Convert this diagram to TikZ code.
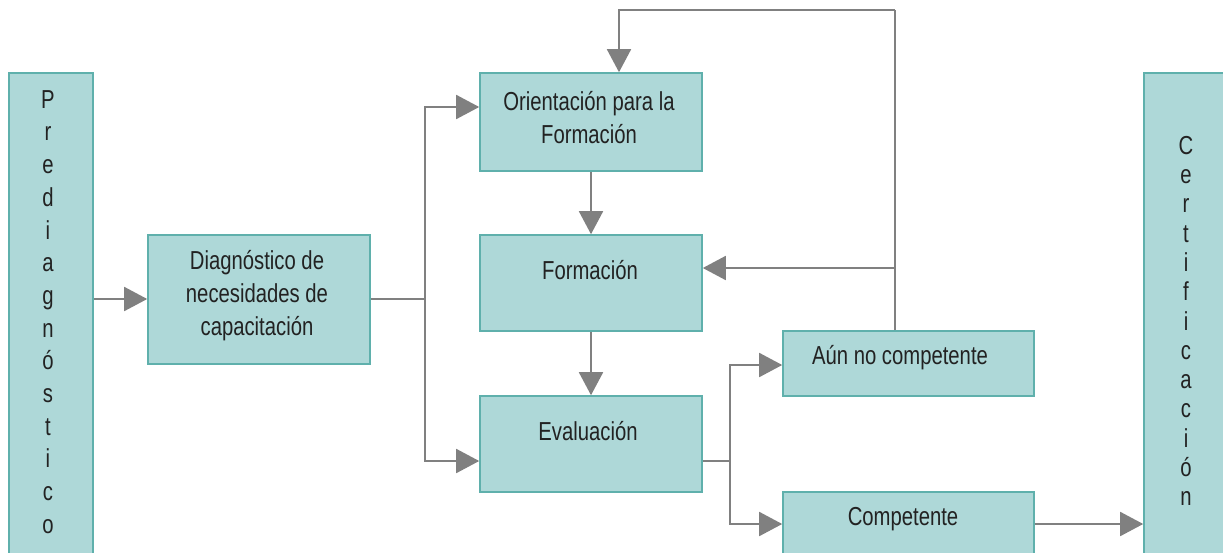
\documentclass[tikz,border=0pt]{standalone}
\usepackage{fontspec}
\setmainfont[FakeStretch=0.78]{Liberation Sans}
\usetikzlibrary{arrows.meta}
\definecolor{boxfill}{HTML}{AED8D8}
\definecolor{boxline}{HTML}{5FB0AC}
\definecolor{conn}{HTML}{808080}
\definecolor{txt}{HTML}{222222}
\tikzset{
  box/.style={draw=boxline, fill=boxfill, line width=1.6pt, inner sep=0pt},
  lbl/.style={text=txt, align=center, inner sep=0pt, font=\fontsize{26}{33}\selectfont},
  vert/.style={text=txt, align=center, inner sep=0pt},
  link/.style={draw=conn, line width=1.8pt, -{Triangle[length=23pt,width=24pt]}},
  plain/.style={draw=conn, line width=1.8pt},
}
\begin{document}
\begin{tikzpicture}[x=1pt,y=-1pt]
\clip (0,0) rectangle (1223,552);
\fill[white] (0,0) rectangle (1223,552);
% side bars
\node[box, minimum width=84pt, minimum height=520pt] (pre) at (51,333) {};
\node[vert, font=\fontsize{26}{32.7}\selectfont] (preT) at (48,312)
  {P\\r\\e\\d\\i\\a\\g\\n\\ó\\s\\t\\i\\c\\o};
\node[box, minimum width=84pt, minimum height=520pt] (cert) at (1186,333) {};
\node[vert, font=\fontsize{26}{29.3}\selectfont] (certT) at (1186,321)
  {C\\e\\r\\t\\i\\f\\i\\c\\a\\c\\i\\ó\\n};
% boxes
\node[box, minimum width=222pt, minimum height=129pt] (diag) at (259,299.5) {};
\node[lbl] (diagT) at (257,296) {Diagnóstico de\\necesidades de\\capacitación};
\node[box, minimum width=222pt, minimum height=98pt] (ori) at (591,122) {};
\node[lbl] (oriT) at (589,118) {Orientación para la\\Formación};
\node[box, minimum width=222pt, minimum height=96pt] (form) at (591,283) {};
\node[lbl] (formT) at (590,270) {Formación};
\node[box, minimum width=222pt, minimum height=96pt] (eval) at (591,444) {};
\node[lbl] (evalT) at (588,431) {Evaluación};
\node[box, minimum width=251pt, minimum height=65pt] (aun) at (908.5,363.5) {};
\node[lbl] (aunT) at (900,358) {Aún no competente};
\node[box, minimum width=251pt, minimum height=100pt] (comp) at (908.5,542) {};
\node[lbl] (compT) at (903,519) {Competente};
% junctions
\coordinate (j1) at (425,299);
\coordinate (j2) at (730,461);
\coordinate (fb) at (895,10);
% connectors
\draw[link] (pre.east |- 0,299) -- (diag.west |- 0,299);
\draw[plain] (diag.east |- 0,299) -- (j1);
\draw[link] (j1) |- (ori.west |- 0,107);
\draw[link] (j1) |- (eval.west |- 0,461);
\draw[link] (ori.south) -- (form.north);
\draw[link] (form.south) -- (eval.north);
\draw[plain] (eval.east |- 0,461) -- (j2);
\draw[link] (j2) |- (aun.west |- 0,365);
\draw[link] (j2) |- (comp.west |- 0,524);
\draw[link] (comp.east |- 0,524) -- (cert.west |- 0,524);
\draw[plain] (aun.north -| 895,0) -- (fb);
\draw[link] (fb) -| (ori.north -| 619,0);
\draw[link] (895,268) -- (form.east |- 0,268);
\end{tikzpicture}
\end{document}
